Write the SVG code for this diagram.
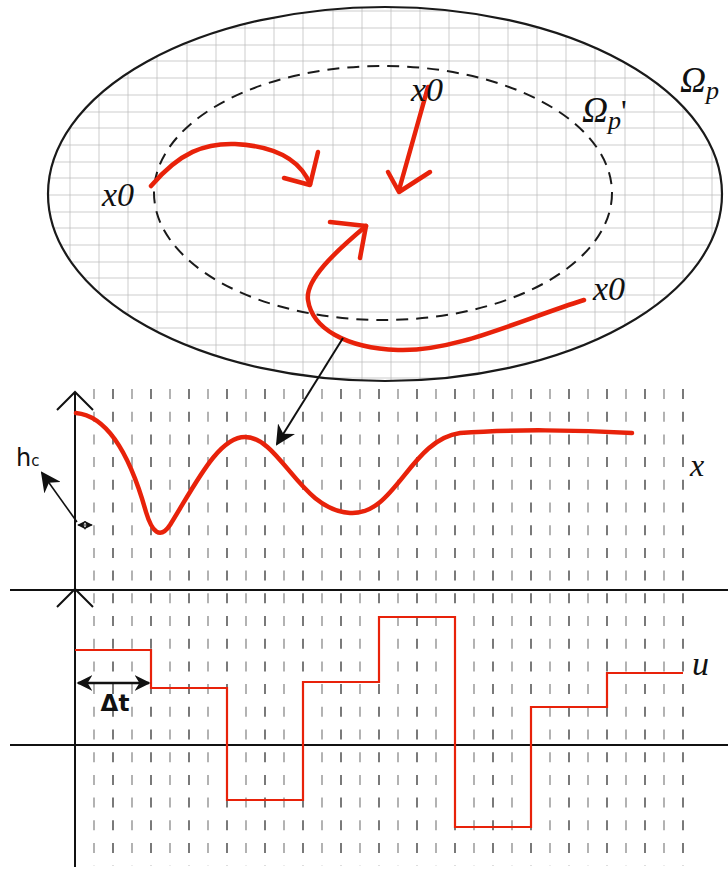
<svg xmlns="http://www.w3.org/2000/svg" width="728" height="870" viewBox="0 0 728 870">
<style>
.math{font-family:"Liberation Serif","DejaVu Serif",serif;font-style:italic;fill:#111}
.sans{font-family:"DejaVu Sans","Liberation Sans",sans-serif;fill:#111}
.red{fill:none;stroke:#e8220a;stroke-width:4.5;stroke-linecap:round;stroke-linejoin:round}
.step{fill:none;stroke:#e8220a;stroke-width:2.2}
.axis{stroke:#111;stroke-width:2;fill:none}
.grid{stroke:#b8b8b8;stroke-width:0.7}
.vd{stroke-width:1.3;stroke-dasharray:10 12.7}
</style>
<defs>
<clipPath id="ec"><ellipse cx="385" cy="194" rx="337" ry="187"/></clipPath>
<marker id="ah" viewBox="0 0 10 10" refX="9" refY="5" markerWidth="9" markerHeight="9" orient="auto-start-reverse" markerUnits="userSpaceOnUse"><path d="M0,0 L10,5 L0,10 L3,5 z" fill="#111"/></marker>
<marker id="ah2" viewBox="0 0 10 10" refX="9" refY="5" markerWidth="20" markerHeight="20" orient="auto" markerUnits="userSpaceOnUse"><path d="M0,0 L10,5 L0,10 L3,5 z" fill="#111"/></marker>
<marker id="dt" viewBox="0 0 10 10" refX="9" refY="5" markerWidth="16" markerHeight="16" orient="auto-start-reverse" markerUnits="userSpaceOnUse"><path d="M0,0 L10,5 L0,10 L3,5 z" fill="#111"/></marker>
</defs>

<g id="region-omega-p">
<g clip-path="url(#ec)">
<g class="grid">
<path d="M70,0V400M99,0V400M128,0V400M157,0V400M187,0V400M216,0V400M245,0V400M274,0V400M303,0V400M333,0V400M362,0V400M391,0V400M420,0V400M449,0V400M479,0V400M508,0V400M537,0V400M566,0V400M595,0V400M625,0V400M654,0V400M683,0V400M712,0V400"/>
<path d="M0,11H728M0,28H728M0,45H728M0,61H728M0,78H728M0,95H728M0,112H728M0,128H728M0,145H728M0,162H728M0,178H728M0,195H728M0,212H728M0,228H728M0,245H728M0,262H728M0,278H728M0,295H728M0,312H728M0,328H728M0,345H728M0,362H728M0,378H728"/>
</g>
</g>
<ellipse cx="385" cy="194" rx="337" ry="187" fill="none" stroke="#1a1a1a" stroke-width="2.2"/>
<text class="math" x="680" y="92" font-size="36">Ω<tspan font-size="26" dy="7">p</tspan></text>
</g>

<g id="region-omega-p-prime">
<ellipse cx="383" cy="193" rx="229" ry="127" fill="none" stroke="#1a1a1a" stroke-width="2" stroke-dasharray="12 8"/>
<text class="math" x="582" y="122" font-size="36">Ω<tspan font-size="26" dy="7">p</tspan><tspan dy="-7" font-size="32" font-style="normal">'</tspan></text>
</g>

<g id="trajectories">
<path class="red" d="M151,186 C180,152 205,143 235,144 C275,146 300,160 310,184"/>
<path class="red" d="M284,178 L310,185 L318,152"/>
<path class="red" d="M428,87 L399,190"/>
<path class="red" d="M388,172 L399,192 L430,172"/>
<path class="red" d="M584,300 C520,320 455,352 398,350 C345,348 312,328 308,300 C305,280 335,252 366,226"/>
<path class="red" d="M330,222 L366,226 L360,258"/>
<text class="math" x="102" y="206" font-size="34">x0</text>
<text class="math" x="411" y="101" font-size="34">x0</text>
<text class="math" x="593" y="300" font-size="34">x0</text>
</g>

<g id="time-grid">
<g class="vd" stroke="#8a8a8a">
<path d="M94,389V866M132,389V866M170,389V866M208,389V866M246,389V866M284,389V866M322,389V866M360,389V866M398,389V866M436,389V866M474,389V866M512,389V866M550,389V866M588,389V866M626,389V866M664,389V866"/>
</g>
<g class="vd" stroke="#333">
<path d="M113,389V866M151,389V866M189,389V866M227,389V866M265,389V866M303,389V866M341,389V866M379,389V866M417,389V866M455,389V866M493,389V866M531,389V866M569,389V866M607,389V866M645,389V866M683,389V866"/>
</g>
</g>

<g id="axes">
<path class="axis" d="M75,392V867"/>
<path class="axis" d="M57,410L75,392L93,410"/>
<path class="axis" d="M57,607L75,589L93,607"/>
<path class="axis" d="M10,590H728"/>
<path class="axis" d="M10,745H728"/>
</g>

<g id="state-plot">
<path class="red" d="M76,413 C108,416 130,455 146,512 C152,532 160,540 170,525 C195,485 218,437 245,437 C280,437 300,510 350,513 C395,516 410,440 460,433 C510,429 580,430 632,433"/>
<text class="math" x="690" y="476" font-size="32">x</text>
</g>

<g id="control-plot">
<path class="step" d="M75,650H151V688H227V800H303V682H379V617H455V827H531V707H607V673H683"/>
<text class="math" x="692" y="675" font-size="34">u</text>
</g>

<g id="hc-annotation">
<path d="M77,522 L42,473" stroke="#111" stroke-width="1.6" marker-end="url(#ah2)"/>
<path d="M78,525 H92" stroke="#111" stroke-width="1" marker-start="url(#ah)" marker-end="url(#ah)"/>
<text class="sans" x="16" y="466" font-size="24">h<tspan font-size="15">c</tspan></text>
</g>

<g id="dt-annotation">
<path d="M78,683 H149" stroke="#111" stroke-width="2.5" marker-start="url(#dt)" marker-end="url(#dt)"/>
<text class="sans" x="115" y="711" font-size="23" text-anchor="middle" font-weight="bold">Δt</text>
</g>

<g id="connectors">
<path d="M343,338 L277,444" stroke="#111" stroke-width="2" marker-end="url(#ah2)"/>
</g>
</svg>
